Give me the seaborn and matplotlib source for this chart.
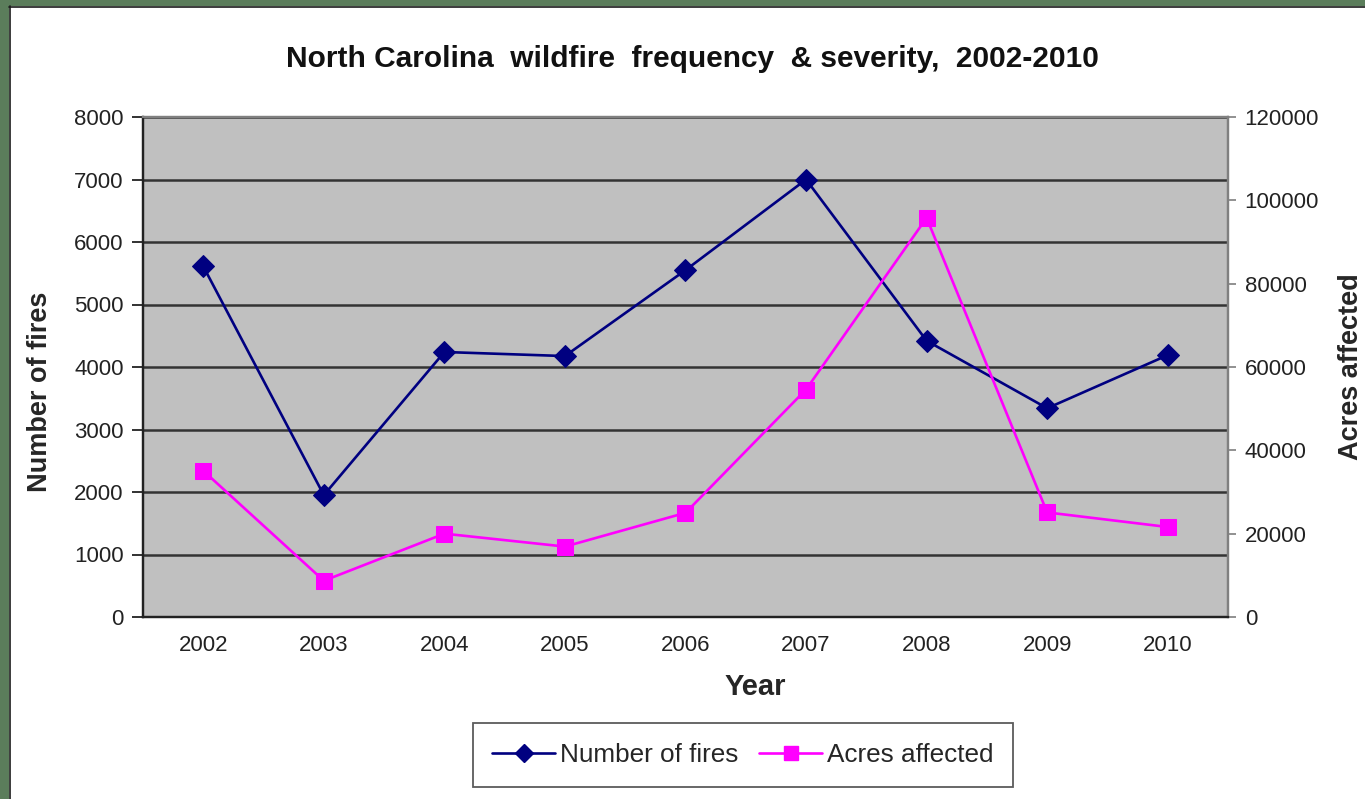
import matplotlib
matplotlib.use("Agg")
import matplotlib.pyplot as plt
from matplotlib.patches import Rectangle
from matplotlib.lines import Line2D
import numpy as np
import pandas as pd
import seaborn as sns

years = ["2002", "2003", "2004", "2005", "2006", "2007", "2008", "2009", "2010"]
fires = [5610, 1950, 4240, 4175, 5550, 7000, 4420, 3340, 4190]
acres = [35100, 8700, 20000, 16900, 25000, 54600, 95800, 25100, 21600]
fire_ticks = [0, 1000, 2000, 3000, 4000, 5000, 6000, 7000, 8000]
acre_ticks = [0, 20000, 40000, 60000, 80000, 100000, 120000]

sns.set_style("white")
plt.rcParams["font.family"] = ["Liberation Sans", "DejaVu Sans"]

df = pd.DataFrame({"pos": np.arange(len(years)), "year": years,
                   "fires": fires, "acres": acres})

W, H = 1365, 799
fig = plt.figure(figsize=(W / 100, H / 100), dpi=100)
fig.patch.set_facecolor("white")

# slide frame along the top and left edges
green = "#5b7d5b"
fig.patches.append(Rectangle((0, 1 - 6 / H), 1, 6 / H, transform=fig.transFigure,
                             facecolor=green, edgecolor="none", zorder=0))
fig.patches.append(Rectangle((0, 0), 9 / W, 1, transform=fig.transFigure,
                             facecolor=green, edgecolor="none", zorder=0))
fig.add_artist(Line2D([9 / W, 1], [1 - 7 / H, 1 - 7 / H], transform=fig.transFigure,
                      color="#1a1a1a", lw=1.2))
fig.add_artist(Line2D([10 / W, 10 / W], [0, 1 - 6 / H], transform=fig.transFigure,
                      color="#1a1a1a", lw=1.2))

ax = fig.add_axes([143 / W, 1 - 617 / H, (1228 - 143) / W, (617 - 117) / H])
ax.set_facecolor("#c0c0c0")
ax2 = ax.twinx()

navy = "#000080"
magenta = "#ff00ff"

sns.lineplot(data=df, x="pos", y="fires", ax=ax, color=navy, lw=1.9,
             marker="D", markersize=11, markeredgecolor=navy, zorder=5)
sns.lineplot(data=df, x="pos", y="acres", ax=ax2, color=magenta, lw=1.9,
             marker="s", markersize=11.5, markeredgecolor=magenta, zorder=5)

ax.set_xlim(-0.5, len(years) - 0.5)
ax.set_ylim(0, 8000)
ax2.set_ylim(0, 120000)
ax.set_yticks(fire_ticks)
ax2.set_yticks(acre_ticks)
ax.yaxis.grid(True, color="#333333", lw=1.8)
ax.set_axisbelow(True)

# category boundaries carry the tick marks, centres carry the labels
ax.set_xticks(np.arange(-0.5, len(years)), labels=[""] * (len(years) + 1))
ax.set_xticks(np.arange(len(years)), labels=years, minor=True)
ax.tick_params(axis="x", which="major", length=8, width=1.3, color="#222222", direction="out")
ax.tick_params(axis="x", which="minor", length=0, labelsize=16, pad=13, labelcolor="#222222")
ax.tick_params(axis="y", length=8, width=1.3, color="#222222", labelsize=16,
               labelcolor="#222222", pad=6, left=True)
ax2.tick_params(axis="y", length=6, width=1.3, color="#888888", labelsize=16,
                labelcolor="#222222", pad=6, right=True)

for a in (ax, ax2):
    a.spines["left"].set_color("#222222")
    a.spines["bottom"].set_color("#222222")
    a.spines["left"].set_linewidth(1.6)
    a.spines["bottom"].set_linewidth(1.6)
    a.spines["top"].set_color("#808080")
    a.spines["right"].set_color("#808080")
    a.spines["top"].set_linewidth(1.6)
    a.spines["right"].set_linewidth(1.6)

ax.set_xlabel("Year", fontsize=21, fontweight="bold")
ax.xaxis.set_label_coords((755 - 143) / 1085, -(673 - 617) / 500)
ax.set_ylabel("Number of fires", fontsize=19.5, fontweight="bold")
ax.yaxis.set_label_coords(-(143 - 53) / 1085, (617 - 392) / 500)
ax2.set_ylabel("Acres affected", fontsize=19.5, fontweight="bold", labelpad=14)

fig.text(692 / W, 1 - 59 / H, "North Carolina  wildfire  frequency  & severity,  2002-2010",
         ha="center", va="center", fontsize=21.5, fontweight="bold", color="#111111")

handles = [
    Line2D([], [], color=navy, lw=1.9, marker="D", markersize=9),
    Line2D([], [], color=magenta, lw=1.9, marker="s", markersize=10),
]
leg = fig.legend(handles, ["Number of fires", "Acres affected"], loc="center",
                 bbox_to_anchor=(743 / W, 1 - 755 / H), ncol=2, fontsize=18.8,
                 frameon=True, fancybox=False, edgecolor="#333333",
                 handlelength=2.4, columnspacing=0.8, handletextpad=0.2,
                 borderpad=0.75, borderaxespad=0)
leg.get_frame().set_linewidth(1.3)

fig.savefig("out.png", dpi=100)
